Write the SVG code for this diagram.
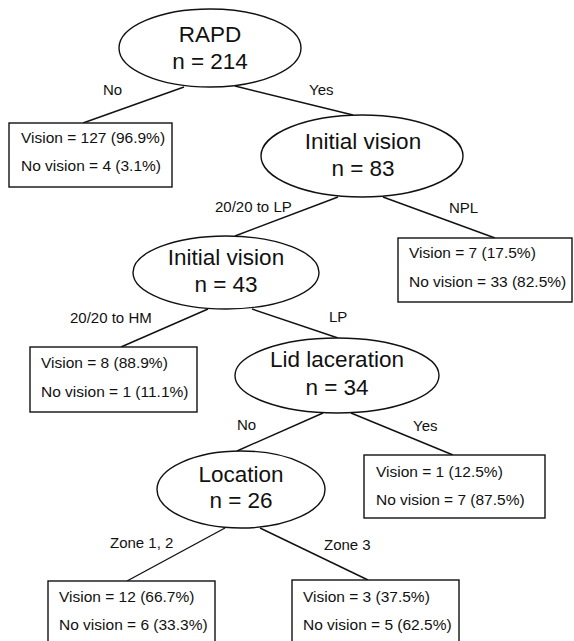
<svg xmlns="http://www.w3.org/2000/svg" width="574" height="641" viewBox="0 0 574 641">
<style>
.bg{fill:#fff}
.node ellipse{fill:#fff;stroke:#111;stroke-width:1.4}
.node rect{fill:#fff;stroke:#111;stroke-width:1.4}
.t{font-family:"Liberation Sans",Arial,sans-serif;fill:#111}
.big{font-size:22.5px;text-anchor:middle}
.box{font-size:15.5px}
.lab{font-size:15px}
.edges line{stroke:#111;stroke-width:1.4}
</style>
<rect class="bg" x="0" y="0" width="574" height="641"/>
<g class="edges" id="connectors">
<line x1="184" y1="87" x2="83" y2="123"/>
<line x1="235" y1="86" x2="353" y2="115"/>
<line x1="338" y1="197" x2="235" y2="236"/>
<line x1="383" y1="197" x2="495" y2="238"/>
<line x1="208" y1="309" x2="121" y2="347"/>
<line x1="252" y1="309" x2="338" y2="338"/>
<line x1="323" y1="413" x2="237" y2="451"/>
<line x1="351" y1="413" x2="453" y2="455"/>
<line x1="225" y1="528" x2="127" y2="581"/>
<line x1="260" y1="528" x2="368" y2="580"/>
<text class="t lab" x="103" y="95">No</text>
<text class="t lab" x="309" y="95">Yes</text>
<text class="t lab" x="215" y="212">20/20 to LP</text>
<text class="t lab" x="449" y="213">NPL</text>
<text class="t lab" x="70" y="323">20/20 to HM</text>
<text class="t lab" x="329" y="322">LP</text>
<text class="t lab" x="237" y="430">No</text>
<text class="t lab" x="413" y="431">Yes</text>
<text class="t lab" x="110" y="548">Zone 1, 2</text>
<text class="t lab" x="324" y="550">Zone 3</text>
</g>
<g class="node" id="rapd">
<ellipse cx="210" cy="48" rx="91" ry="39"/>
<text class="t big" x="210" y="42">RAPD</text>
<text class="t big" x="210" y="69">n = 214</text>
</g>
<g class="node" id="leaf-no">
<rect x="9" y="123" width="163" height="64"/>
<text class="t box" x="21" y="143">Vision = 127 (96.9%)</text>
<text class="t box" x="21" y="171">No vision = 4 (3.1%)</text>
</g>
<g class="node" id="iv83">
<ellipse cx="362" cy="156" rx="101" ry="41"/>
<text class="t big" x="363" y="149">Initial vision</text>
<text class="t big" x="363" y="176">n = 83</text>
</g>
<g class="node" id="leaf-npl">
<rect x="398" y="238" width="174" height="64"/>
<text class="t box" x="409" y="258">Vision = 7 (17.5%)</text>
<text class="t box" x="409" y="287">No vision = 33 (82.5%)</text>
</g>
<g class="node" id="iv43">
<ellipse cx="226" cy="272.5" rx="93" ry="36.5"/>
<text class="t big" x="226" y="265">Initial vision</text>
<text class="t big" x="226" y="292">n = 43</text>
</g>
<g class="node" id="leaf-hm">
<rect x="30" y="347" width="167" height="65"/>
<text class="t box" x="41" y="368">Vision = 8 (88.9%)</text>
<text class="t box" x="41" y="397">No vision = 1 (11.1%)</text>
</g>
<g class="node" id="lid">
<ellipse cx="337" cy="375.5" rx="102" ry="37.5"/>
<text class="t big" x="337" y="367">Lid laceration</text>
<text class="t big" x="337" y="395">n = 34</text>
</g>
<g class="node" id="leaf-lidyes">
<rect x="364" y="455" width="181" height="63"/>
<text class="t box" x="376" y="477">Vision = 1 (12.5%)</text>
<text class="t box" x="376" y="505">No vision = 7 (87.5%)</text>
</g>
<g class="node" id="location">
<ellipse cx="241" cy="489.5" rx="84" ry="38.5"/>
<text class="t big" x="241" y="482">Location</text>
<text class="t big" x="241" y="508">n = 26</text>
</g>
<g class="node" id="leaf-z12">
<rect x="48" y="581" width="167" height="66"/>
<text class="t box" x="59" y="602">Vision = 12 (66.7%)</text>
<text class="t box" x="59" y="630">No vision = 6 (33.3%)</text>
</g>
<g class="node" id="leaf-z3">
<rect x="292" y="580" width="167" height="67"/>
<text class="t box" x="303" y="602">Vision = 3 (37.5%)</text>
<text class="t box" x="303" y="630">No vision = 5 (62.5%)</text>
</g>
</svg>
